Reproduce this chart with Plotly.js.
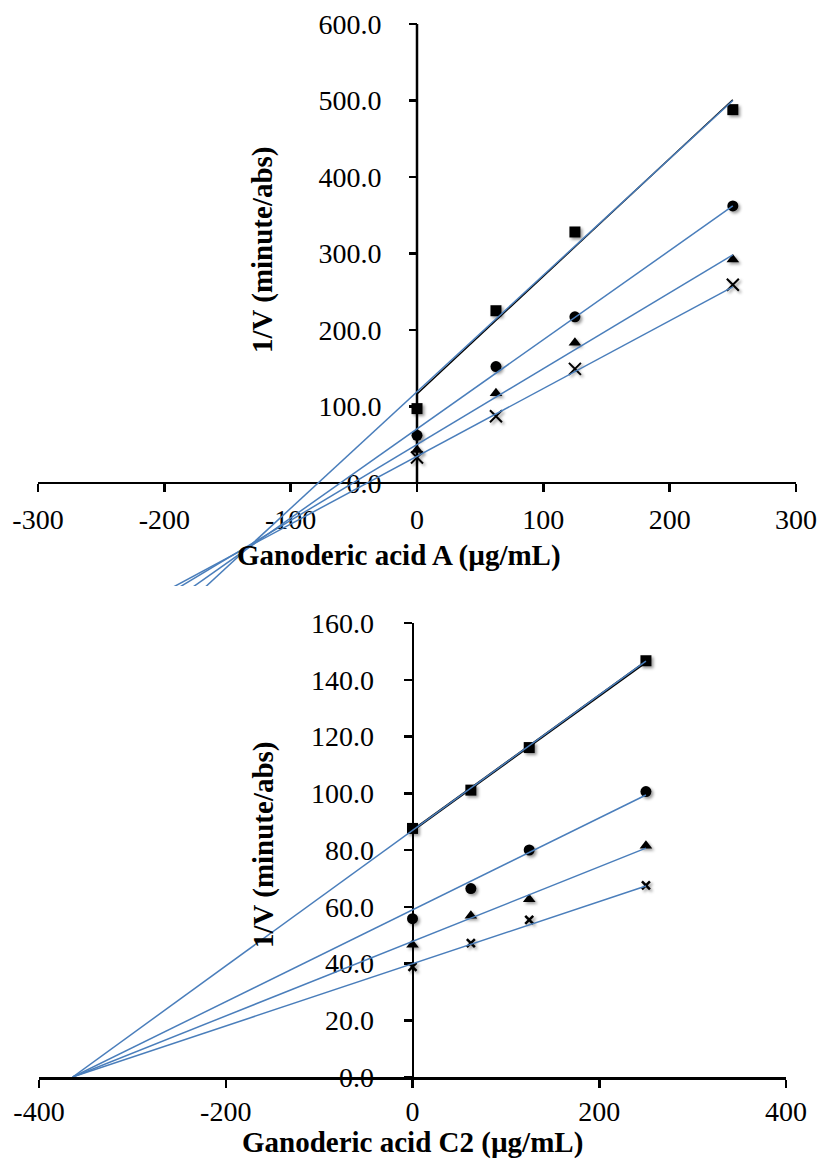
<!DOCTYPE html>
<html><head><meta charset="utf-8">
<script src="https://cdn.plot.ly/plotly-3.0.1.min.js"></script>
<style>
html,body{margin:0;padding:0;background:#fff}
#chart{width:823px;height:1171px}
#chart .scatterlayer .trace .points path{filter:drop-shadow(2px 2px 1.5px rgba(0,0,0,0.4));}
</style>
</head><body><div id="chart"></div>
<script>
// ---------- Data ----------
// Chart 1: Ganoderic acid A
const concA = [0, 62.5, 125, 250];
const gaA_square = [97, 225, 328, 488];
const gaA_circle = [62, 152, 217, 362];
const gaA_triangle = [43, 117, 183, 292];
const gaA_cross = [33, 87, 149, 259];
// fitted (trend) lines drawn in blue: intercept and slope
const gaA_lineIntercept = [119, 70.5, 50, 34.6];
const gaA_lineSlope = [1.524, 1.166, 0.992, 0.886];
const gaA_xTicks = [-300, -200, -100, 0, 100, 200, 300];
const gaA_yTicks = [0, 100, 200, 300, 400, 500, 600];

// Chart 2: Ganoderic acid C2
const concC2 = [0, 62.5, 125, 250];
const gaC2_square = [87.6, 101.1, 116.1, 146.7];
const gaC2_circle = [55.8, 66.4, 80.0, 100.6];
const gaC2_triangle = [46.6, 56.8, 62.6, 81.5];
const gaC2_cross = [38.8, 47.2, 55.4, 67.5];
const gaC2_lineIntercept = [86.9, 58.9, 47.8, 39.9];
const gaC2_lineSlope = [0.2388, 0.1619, 0.1314, 0.1096];
const gaC2_xTicks = [-400, -200, 0, 200, 400];
const gaC2_yTicks = [0, 20, 40, 60, 80, 100, 120, 140, 160];

// ---------- Helpers ----------
const W = 823, H = 1171;
const FONT = '"Liberation Serif", "Times New Roman", Times, serif';
const BLUE = '#4a7ebb';
const px = p => p / W;
const py = p => 1 - p / H;
const intLabels = arr => arr.map(v => String(v));
const decLabels = arr => arr.map(v => v.toFixed(1));

function ols(xs, ys) {
  const n = xs.length;
  const mx = xs.reduce((a, b) => a + b, 0) / n;
  const my = ys.reduce((a, b) => a + b, 0) / n;
  let sxy = 0, sxx = 0;
  for (let i = 0; i < n; i++) { sxy += (xs[i] - mx) * (ys[i] - my); sxx += (xs[i] - mx) ** 2; }
  const m = sxy / sxx;
  return { m: m, b: my - m * mx };
}
function lineTrace(b, m, x0, x1, xa, ya, color, width) {
  return { type: 'scatter', mode: 'lines', x: [x0, x1], y: [b + m * x0, b + m * x1],
    xaxis: xa, yaxis: ya, line: { color: color, width: width }, hoverinfo: 'skip', showlegend: false };
}
function markerTrace(xs, ys, xa, ya, symbol, size, lw) {
  return { type: 'scatter', mode: 'markers', x: xs, y: ys, xaxis: xa, yaxis: ya, showlegend: false,
    cliponaxis: false,
    marker: { symbol: symbol, size: size, color: '#000', line: { color: '#000', width: lw } } };
}

const traces = [];
// Chart 1 markers
traces.push(markerTrace(concA, gaA_square, 'x', 'y', 'square', 11, 0));
traces.push(markerTrace(concA, gaA_circle, 'x', 'y', 'circle', 11, 0));
traces.push(markerTrace(concA, gaA_triangle, 'x', 'y', 'triangle-up', 11, 0));
traces.push(markerTrace(concA, gaA_cross, 'x', 'y', 'x-thin-open', 12, 2));
// black regression of squares
const fA = ols(concA, gaA_square);
traces.push(lineTrace(fA.b, fA.m, concA[0], concA[concA.length - 1], 'x', 'y', '#000', 1.5));
// blue lines
for (let i = 0; i < gaA_lineIntercept.length; i++) {
  traces.push(lineTrace(gaA_lineIntercept[i], gaA_lineSlope[i], -300, concA[concA.length - 1], 'x', 'y', BLUE, 1.5));
}

// Chart 2 markers
traces.push(markerTrace(concC2, gaC2_square, 'x2', 'y2', 'square', 11, 0));
traces.push(markerTrace(concC2, gaC2_circle, 'x2', 'y2', 'circle', 11, 0));
traces.push(markerTrace(concC2, gaC2_triangle, 'x2', 'y2', 'triangle-up', 11, 0));
traces.push(markerTrace(concC2, gaC2_cross, 'x2', 'y2', 'x-thin-open', 8, 2.5));
const fC = ols(concC2, gaC2_square);
traces.push(lineTrace(fC.b, fC.m, concC2[0], concC2[concC2.length - 1], 'x2', 'y2', '#000', 2.5));
for (let i = 0; i < gaC2_lineIntercept.length; i++) {
  const x0 = -gaC2_lineIntercept[i] / gaC2_lineSlope[i];
  traces.push(lineTrace(gaC2_lineIntercept[i], gaC2_lineSlope[i], x0, concC2[concC2.length - 1], 'x2', 'y2', BLUE, 1.5));
}

// ---------- Layout ----------
const dom1x = [px(38), px(796)], dom1y = [py(586), py(24)];
const r1x = [-300, 300], r1y = [-135, 600];
const dom2x = [px(39), px(786)], dom2y = [py(1077), py(623)];
const r2x = [-400, 400], r2y = [0, 160];
const posOf = (dom, r, v) => dom[0] + (v - r[0]) / (r[1] - r[0]) * (dom[1] - dom[0]);

const tickFont = { family: FONT, size: 28, color: '#000' };
const axBase = {
  showgrid: false, zeroline: false, ticks: 'outside', ticklen: 8, tickwidth: 2.5, tickcolor: '#000',
  linecolor: '#000', linewidth: 2.5, tickfont: tickFont, layer: 'below traces', fixedrange: true,
  tickmode: 'array'
};

const layout = {
  width: W, height: H, margin: { l: 0, r: 0, t: 0, b: 0 },
  paper_bgcolor: '#fff', plot_bgcolor: 'rgba(0,0,0,0)', showlegend: false,
  xaxis: Object.assign({}, axBase, { domain: dom1x, range: r1x, anchor: 'free',
    position: posOf(dom1y, r1y, 0), showline: true, tickvals: gaA_xTicks, ticktext: intLabels(gaA_xTicks), ticklabelstandoff: 3 }),
  yaxis: Object.assign({}, axBase, { domain: dom1y, range: r1y, anchor: 'free',
    position: posOf(dom1x, r1x, 0), showline: false, tickvals: gaA_yTicks, ticktext: decLabels(gaA_yTicks), ticklabelstandoff: 22 }),
  xaxis2: Object.assign({}, axBase, { domain: dom2x, range: r2x, anchor: 'y2',
    showline: true, tickvals: gaC2_xTicks, ticktext: intLabels(gaC2_xTicks), ticklabelstandoff: 0 }),
  yaxis2: Object.assign({}, axBase, { domain: dom2y, range: r2y, anchor: 'free',
    position: posOf(dom2x, r2x, 0), showline: true, tickvals: gaC2_yTicks, ticktext: decLabels(gaC2_yTicks), ticklabelstandoff: 24 }),
  shapes: [
    { type: 'line', xref: 'x', yref: 'y', x0: 0, x1: 0, y0: 0, y1: gaA_yTicks[gaA_yTicks.length - 1],
      line: { color: '#000', width: 2.5 }, layer: 'below' }
  ],
  annotations: [
    { text: '<b>Ganoderic acid A (µg/mL)</b>', xref: 'paper', yref: 'paper', x: px(399), y: py(555.5),
      xanchor: 'center', yanchor: 'middle', showarrow: false, font: { family: FONT, size: 29, color: '#000' } },
    { text: '<b>1/V (minute/abs)</b>', xref: 'paper', yref: 'paper', x: px(262), y: py(250), textangle: -90,
      xanchor: 'center', yanchor: 'middle', showarrow: false, font: { family: FONT, size: 29, color: '#000' } },
    { text: '<b>Ganoderic acid C2 (µg/mL)</b>', xref: 'paper', yref: 'paper', x: px(412.5), y: py(1142.5),
      xanchor: 'center', yanchor: 'middle', showarrow: false, font: { family: FONT, size: 29, color: '#000' } },
    { text: '<b>1/V (minute/abs)</b>', xref: 'paper', yref: 'paper', x: px(263), y: py(845), textangle: -90,
      xanchor: 'center', yanchor: 'middle', showarrow: false, font: { family: FONT, size: 29, color: '#000' } }
  ]
};

Plotly.newPlot('chart', traces, layout, { staticPlot: true, displayModeBar: false });
</script>
</body></html>
